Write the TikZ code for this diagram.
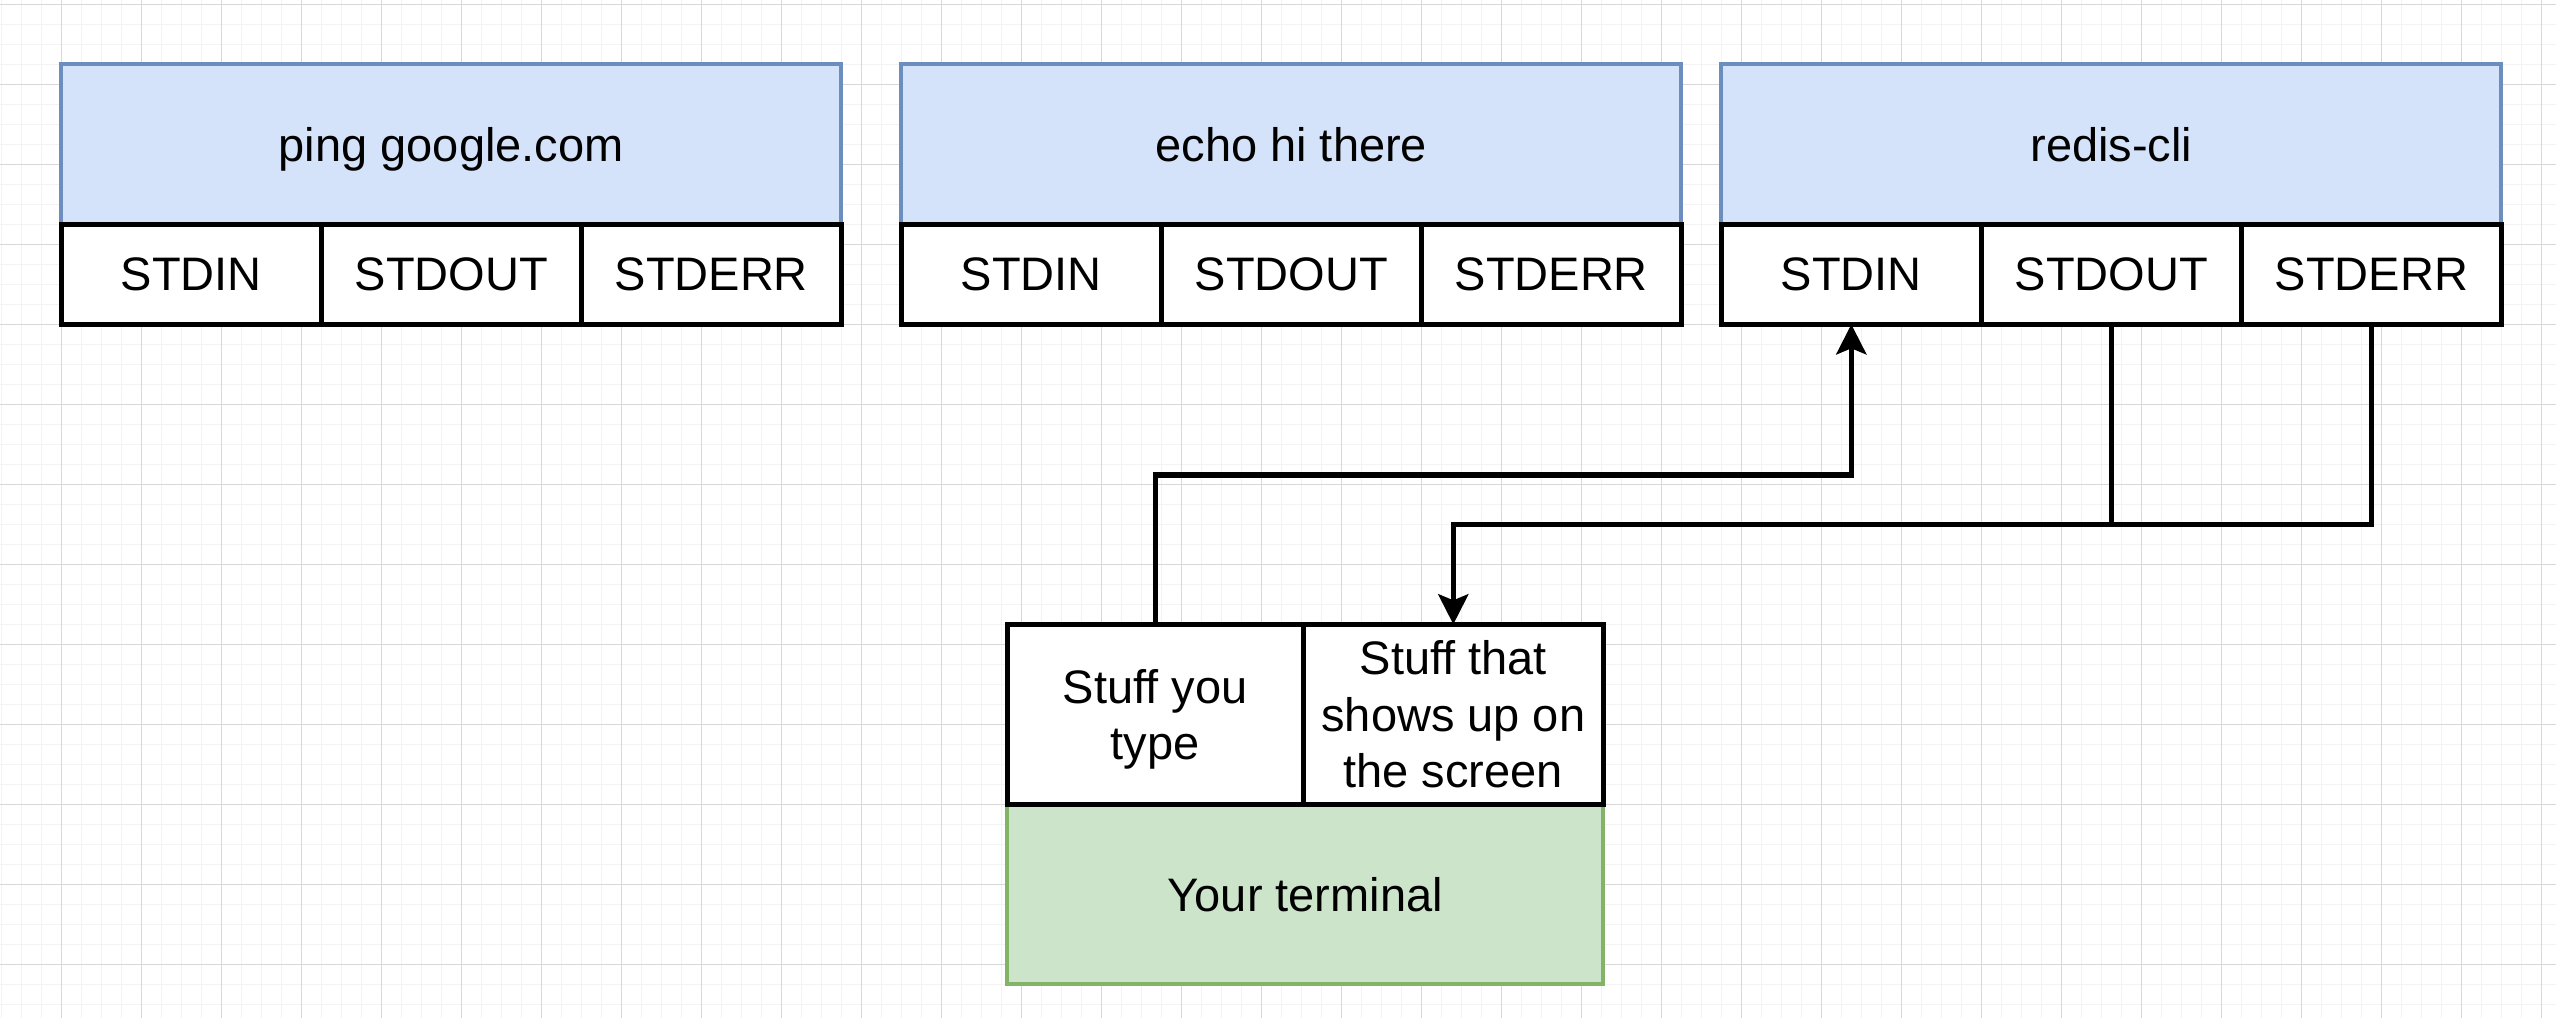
\documentclass[tikz,border=0pt]{standalone}
\usepackage{fontspec}
\setmainfont{Liberation Sans}
\usetikzlibrary{arrows.meta,calc}
\definecolor{bluefill}{HTML}{D4E3FA}
\definecolor{bluestroke}{HTML}{6C8EBF}
\definecolor{greenfill}{HTML}{CCE4CA}
\definecolor{greenstroke}{HTML}{82B366}
\definecolor{minorgridc}{HTML}{F3F3F3}
\definecolor{majorgridc}{HTML}{D8D8D8}
\begin{document}
\begin{tikzpicture}[x=0.25pt,y=-0.25pt,
  every node/.style={font=\fontsize{11.75pt}{14.1pt}\selectfont, inner sep=0pt, outer sep=0pt},
  procbox/.style={draw=bluestroke, fill=bluefill, line width=1pt, anchor=north west,
    minimum width=195pt, minimum height=40pt, text depth=0pt},
  cell/.style={draw=black, fill=white, line width=1.2pt, anchor=north west,
    minimum width=65pt, minimum height=25pt, text depth=0pt},
  termcell/.style={draw=black, fill=white, line width=1.2pt, anchor=north west,
    minimum height=45pt, align=center},
  termbox/.style={draw=greenstroke, fill=greenfill, line width=1pt, anchor=north west,
    minimum width=149pt, minimum height=45pt},
  conn/.style={draw=black, line width=1.35pt},
  tip/.style={-{Stealth[length=7.5pt,width=7.5pt,inset=1.5pt]}},
  minorline/.style={draw=minorgridc, line width=0.35pt},
  majorline/.style={draw=majorgridc, line width=0.25pt}
]
\useasboundingbox (0,0) rectangle (2556,1018);
\fill[white] (0,0) rectangle (2556,1018);
% grid
\begin{scope}
\clip (0,0) rectangle (2556,1018);
\foreach \x in {1.3,21.3,...,2560} \draw[minorline] (\x,0) -- (\x,1018);
\foreach \y in {4.3,24.3,...,1020} \draw[minorline] (0,\y) -- (2556,\y);
\foreach \x in {61.3,141.3,...,2560} \draw[majorline] (\x,0) -- (\x,1018);
\foreach \y in {4.3,84.3,...,1020} \draw[majorline] (0,\y) -- (2556,\y);
\end{scope}

% process 1
\node[procbox] (p1) at (61.3,64.3) {ping google.com};
\node[cell] (in1) at (61.3,224.3) {STDIN};
\node[cell] (out1) at (321.3,224.3) {STDOUT};
\node[cell] (err1) at (581.3,224.3) {STDERR};
% process 2
\node[procbox] (p2) at (901.3,64.3) {echo hi there};
\node[cell] (in2) at (901.3,224.3) {STDIN};
\node[cell] (out2) at (1161.3,224.3) {STDOUT};
\node[cell] (err2) at (1421.3,224.3) {STDERR};
% process 3
\node[procbox] (p3) at (1721.3,64.3) {redis-cli};
\node[cell] (in3) at (1721.3,224.3) {STDIN};
\node[cell] (out3) at (1981.3,224.3) {STDOUT};
\node[cell] (err3) at (2241.3,224.3) {STDERR};

% terminal
\node[termbox] (term) at (1007.3,804.3) {Your terminal};
\node[termcell, minimum width=74pt, text depth=0pt] (type) at (1007.3,624.3) {Stuff you\\type};
\node[termcell, minimum width=75pt] (screen) at (1303.3,624.3) {Stuff that\\shows up on\\the screen};

% connectors
\coordinate (j1) at (1500,475);
\draw[conn,tip] (type.north) |- (j1) -| (in3.south);
\coordinate (j2) at ($(out3.south)+(0,200)$);
\draw[conn,tip] (out3.south) -- ++(0,200) -| (screen.north);
\draw[conn] (err3.south) |- (j2);
\end{tikzpicture}
\end{document}
